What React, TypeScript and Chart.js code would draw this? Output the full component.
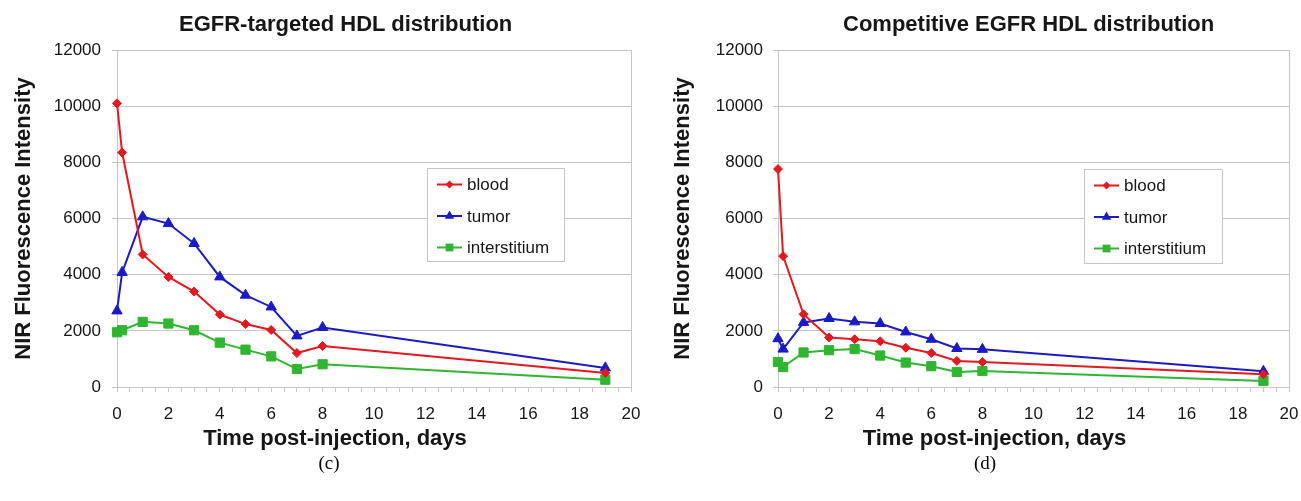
import React, { useEffect, useRef } from 'react';
import { Chart, registerables } from 'chart.js';

Chart.register(...registerables);

// ---- data ----
const days = [0, 0.2, 1, 2, 3, 4, 5, 6, 7, 8, 19];
const seriesNames = ['blood', 'tumor', 'interstitium'];

const targetedBlood = [10100, 8350, 4720, 3920, 3400, 2580, 2240, 2030, 1210, 1460, 500];
const targetedTumor = [2710, 4080, 6060, 5820, 5110, 3920, 3270, 2850, 1820, 2120, 680];
const targetedInterstitium = [1950, 2020, 2320, 2260, 2020, 1580, 1330, 1090, 640, 810, 260];

const competitiveBlood = [7760, 4660, 2590, 1760, 1700, 1630, 1400, 1210, 930, 890, 450];
const competitiveTumor = [1720, 1350, 2300, 2440, 2320, 2260, 1960, 1700, 1370, 1340, 560];
const competitiveInterstitium = [890, 710, 1230, 1310, 1350, 1120, 870, 740, 535, 570, 215];

const xMin = 0;
const xMax = 20;
const xMinorStep = 0.5;
const xLabelStep = 2;
const yMin = 0;
const yMax = 12000;
const yStep = 2000;

const chartTitles = ['EGFR-targeted HDL distribution', 'Competitive EGFR HDL distribution'];
const captions = ['(c)', '(d)'];
const xAxisTitle = 'Time post-injection, days';
const yAxisTitle = 'NIR Fluorescence Intensity';

// ---- styles ----
const FONT = "'Liberation Sans', Arial, Helvetica, sans-serif";
const TEXT = '#161616';
const GRID = '#c6c6c6';
const seriesColors = ['#e3191f', '#1b1bc6', '#2fb52f'];
const seriesPointStyles = ['rectRot', 'triangle', 'rect'];
const seriesPointRadius = [4.5, 6, 6.5];

type Geom = {
  width: number;
  height: number;
  yScaleWidth: number;
  yTitlePad: number;
  yTickPad: number;
  rightPad: number;
  xTitleShift: number;
  legend: { x: number; y: number; w: number; h: number };
};

function drawMarker(ctx: CanvasRenderingContext2D, style: string, x: number, y: number, r: number) {
  ctx.beginPath();
  if (style === 'rectRot') {
    ctx.moveTo(x, y - r);
    ctx.lineTo(x + r, y);
    ctx.lineTo(x, y + r);
    ctx.lineTo(x - r, y);
  } else if (style === 'triangle') {
    ctx.moveTo(x, y - r);
    ctx.lineTo(x + r * Math.cos(Math.PI / 6), y + r / 2);
    ctx.lineTo(x - r * Math.cos(Math.PI / 6), y + r / 2);
  } else {
    const s = r * Math.SQRT1_2;
    ctx.rect(x - s, y - s, 2 * s, 2 * s);
  }
  ctx.closePath();
  ctx.fill();
}

function makeChart(canvas: HTMLCanvasElement, values: number[][], g: Geom) {
  const datasets = values.map((vals, i) => ({
    label: seriesNames[i],
    data: days.map((d, j) => ({ x: d, y: vals[j] })),
    borderColor: seriesColors[i],
    backgroundColor: seriesColors[i],
    borderWidth: 2,
    pointStyle: seriesPointStyles[i],
    pointRadius: seriesPointRadius[i],
    pointBorderWidth: 1,
    pointBackgroundColor: seriesColors[i],
    pointBorderColor: seriesColors[i],
    tension: 0,
    clip: false as any,
  }));

  const legendPlugin = {
    id: 'boxLegend',
    afterDatasetsDraw(chart: any) {
      const ctx: CanvasRenderingContext2D = chart.ctx;
      const L = g.legend;
      ctx.save();
      ctx.fillStyle = '#ffffff';
      ctx.fillRect(L.x, L.y, L.w, L.h);
      ctx.strokeStyle = GRID;
      ctx.lineWidth = 1;
      ctx.strokeRect(L.x + 0.5, L.y + 0.5, L.w, L.h);
      ctx.font = `17px ${FONT}`;
      ctx.textBaseline = 'middle';
      ctx.textAlign = 'left';
      chart.data.datasets.forEach((ds: any, i: number) => {
        const y = L.y + 16.5 + i * 31.5;
        ctx.strokeStyle = ds.borderColor;
        ctx.fillStyle = ds.borderColor;
        ctx.lineWidth = 2;
        ctx.beginPath();
        ctx.moveTo(L.x + 10, y);
        ctx.lineTo(L.x + 35, y);
        ctx.stroke();
        drawMarker(ctx, ds.pointStyle, L.x + 22.5, y, ds.pointStyle === 'rectRot' ? 4 : 5.5);
        ctx.fillStyle = TEXT;
        ctx.fillText(ds.label, L.x + 40, y + 1);
      });
      ctx.restore();
    },
  };

  const borderPlugin = {
    id: 'rightBorder',
    beforeDatasetsDraw(chart: any) {
      const { ctx, chartArea } = chart;
      ctx.save();
      ctx.strokeStyle = GRID;
      ctx.lineWidth = 1;
      ctx.beginPath();
      const x = Math.round(chartArea.right) + 0.5;
      ctx.moveTo(x, chartArea.top);
      ctx.lineTo(x, chartArea.bottom);
      ctx.stroke();
      ctx.restore();
    },
  };

  const xTitlePlugin = {
    id: 'xTitle',
    afterDraw(chart: any) {
      const { ctx, chartArea } = chart;
      ctx.save();
      ctx.font = `bold 22px ${FONT}`;
      ctx.fillStyle = TEXT;
      ctx.textAlign = 'center';
      ctx.textBaseline = 'middle';
      ctx.fillText(xAxisTitle, (chartArea.left + chartArea.right) / 2 + g.xTitleShift, chartArea.bottom + 52);
      ctx.restore();
    },
  };

  return new Chart(canvas, {
    type: 'line',
    data: { datasets },
    options: {
      animation: false,
      responsive: false,
      maintainAspectRatio: false,
      layout: { padding: { top: 50, right: g.rightPad, left: 0, bottom: 0 } },
      plugins: {
        legend: { display: false },
        title: { display: false },
        tooltip: { enabled: false },
      },
      scales: {
        x: {
          type: 'linear',
          min: xMin,
          max: xMax,
          afterFit: (scale: any) => {
            scale.height = 73;
            scale.paddingLeft = 0;
            scale.paddingRight = 0;
          },
          ticks: {
            stepSize: xMinorStep,
            autoSkip: false,
            maxRotation: 0,
            minRotation: 0,
            padding: 12,
            color: TEXT,
            font: { family: FONT, size: 17 },
            callback: (v: any) => (Number(v) % xLabelStep === 0 ? String(v) : ''),
          },
          grid: {
            drawOnChartArea: false,
            drawTicks: true,
            tickLength: 5,
            color: GRID,
          },
          border: { display: true, color: GRID, width: 1 },
          title: { display: false },
        },
        y: {
          type: 'linear',
          min: yMin,
          max: yMax,
          afterFit: (scale: any) => {
            scale.width = g.yScaleWidth;
            scale.paddingTop = 0;
            scale.paddingBottom = 0;
          },
          ticks: {
            stepSize: yStep,
            padding: g.yTickPad,
            color: TEXT,
            font: { family: FONT, size: 17 },
            callback: (v: any) => String(v),
          },
          grid: {
            color: GRID,
            drawTicks: true,
            tickLength: 5,
          },
          border: { display: true, color: GRID, width: 1 },
          title: {
            display: true,
            text: yAxisTitle,
            color: TEXT,
            font: { family: FONT, size: 22, weight: 'bold' },
            padding: { top: g.yTitlePad, bottom: 0 },
          },
        },
      },
    },
    plugins: [borderPlugin, legendPlugin, xTitlePlugin],
  } as any);
}

function ChartPanel(props: { values: number[][]; geom: Geom; left: number }) {
  const ref = useRef<HTMLCanvasElement | null>(null);
  useEffect(() => {
    if (!ref.current) return;
    const chart = makeChart(ref.current, props.values, props.geom);
    return () => chart.destroy();
  }, []);
  return (
    <canvas
      ref={ref}
      width={props.geom.width}
      height={props.geom.height}
      style={{ position: 'absolute', left: props.left, top: 0, width: props.geom.width, height: props.geom.height }}
    />
  );
}

const leftGeom: Geom = {
  width: 645,
  height: 460,
  yScaleWidth: 117,
  yTitlePad: 11,
  yTickPad: 11,
  rightPad: 14,
  xTitleShift: -39,
  legend: { x: 427, y: 168, w: 137, h: 93 },
};

const rightGeom: Geom = {
  width: 651,
  height: 460,
  yScaleWidth: 128,
  yTitlePad: 20,
  yTickPad: 10,
  rightPad: 12,
  xTitleShift: -39,
  legend: { x: 434, y: 169, w: 138, h: 94 },
};

export default function App() {
  const titleStyle: React.CSSProperties = {
    position: 'absolute',
    top: 8,
    fontFamily: FONT,
    fontWeight: 'bold',
    fontSize: 22,
    lineHeight: '32px',
    color: TEXT,
    whiteSpace: 'nowrap',
  };
  const capStyle: React.CSSProperties = {
    position: 'absolute',
    top: 450,
    fontFamily: "'Liberation Serif', 'DejaVu Serif', serif",
    fontSize: 19,
    lineHeight: '26px',
    color: '#000',
    width: 60,
    textAlign: 'center',
  };
  return (
    <div style={{ position: 'fixed', left: 0, top: 0, width: 1301, height: 501, background: '#fff', overflow: 'hidden' }}>
      <ChartPanel values={[targetedBlood, targetedTumor, targetedInterstitium]} geom={leftGeom} left={0} />
      <ChartPanel values={[competitiveBlood, competitiveTumor, competitiveInterstitium]} geom={rightGeom} left={650} />
      <div style={{ ...titleStyle, left: 179 }}>{chartTitles[0]}</div>
      <div style={{ ...titleStyle, left: 843 }}>{chartTitles[1]}</div>
      <div style={{ ...capStyle, left: 299 }}>{captions[0]}</div>
      <div style={{ ...capStyle, left: 955 }}>{captions[1]}</div>
    </div>
  );
}
